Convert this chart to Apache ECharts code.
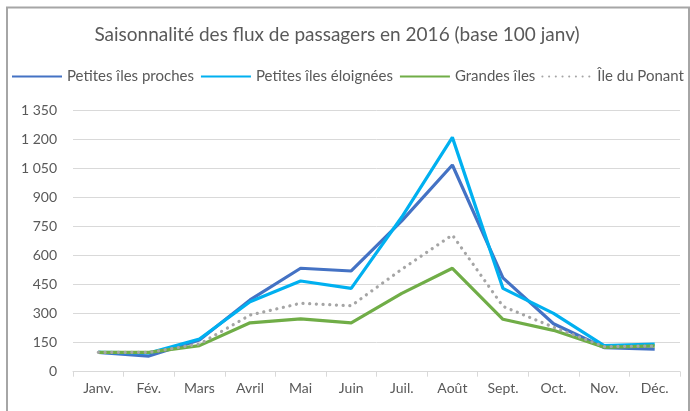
<!DOCTYPE html>
<html>
<head>
<meta charset="utf-8">
<script src="https://cdn.jsdelivr.net/npm/echarts@6/dist/echarts.min.js"></script>
<style>
  html, body { margin: 0; padding: 0; background: #fff; }
  #chart { width: 690px; height: 411px; }
</style>
</head>
<body>
<div id="chart"></div>
<script>
// Monthly passenger flows, indexed to January = 100
const months = ['Janv.', 'Fév.', 'Mars', 'Avril', 'Mai', 'Juin', 'Juil.', 'Août', 'Sept.', 'Oct.', 'Nov.', 'Déc.'];
const petitesProches   = [100, 81, 164, 371, 535, 521, 780, 1069, 485, 248, 125, 117];
const petitesEloignees = [100, 97, 169, 362, 469, 431, 800, 1212, 431, 302, 135, 143];
const grandesIles      = [100, 100, 135, 253, 273, 253, 405, 535, 271, 214, 126, 134];
const ponant           = [100, 100, 143, 293, 354, 341, 530, 707, 338, 230, 130, 133];
const seriesNames = ['Petites îles proches', 'Petites îles éloignées', 'Grandes îles', 'Île du Ponant'];
const yTicks = { min: 0, max: 1350, step: 150 };

const font = 'Lato, "Open Sans", sans-serif';
const textColor = '#595959';

function fmtThousands(v) {
  return String(v).replace(/\B(?=(\d{3})+(?!\d))/g, ' ');
}

function lineSeries(name, data, color, dotted) {
  return {
    name: name,
    type: 'line',
    data: data,
    symbol: 'none',
    smooth: false,
    lineStyle: dotted
      ? { color: color, width: 3.2, type: [0.1, 6.6], cap: 'round' }
      : { color: color, width: 3.2, type: 'solid' },
    itemStyle: { color: color }
  };
}

const chart = echarts.init(document.getElementById('chart'), null, { renderer: 'canvas' });
chart.setOption({
  animation: false,
  backgroundColor: '#fff',
  title: {
    text: 'Saisonnalité des flux de passagers en 2016 (base 100 janv)',
    left: 332,
    textAlign: 'center',
    top: 20,
    textStyle: { fontFamily: font, fontSize: 19, fontWeight: 'normal', color: textColor }
  },
  legend: {
    left: 6,
    top: 64,
    itemWidth: 50,
    itemHeight: 14,
    itemGap: 6,
    itemStyle: { opacity: 0 },
    textStyle: { fontFamily: font, fontSize: 15, color: textColor },
    data: seriesNames
  },
  grid: { left: 73, right: 10, top: 110.7, bottom: 39.3, containLabel: false },
  xAxis: {
    type: 'category',
    data: months,
    boundaryGap: true,
    axisLine: { lineStyle: { color: '#D9D9D9', width: 1 } },
    axisTick: { show: true, length: 5, lineStyle: { color: '#D9D9D9' } },
    axisLabel: { fontFamily: font, fontSize: 14, color: textColor, margin: 10 }
  },
  yAxis: {
    type: 'value',
    min: yTicks.min,
    max: yTicks.max,
    interval: yTicks.step,
    axisLine: { show: false },
    axisTick: { show: false },
    splitLine: { lineStyle: { color: '#D9D9D9', width: 1 } },
    axisLabel: { fontFamily: font, fontSize: 14, color: textColor, margin: 16, formatter: fmtThousands }
  },
  series: [
    lineSeries(seriesNames[0], petitesProches, '#4472C4'),
    lineSeries(seriesNames[1], petitesEloignees, '#00B0F0'),
    lineSeries(seriesNames[2], grandesIles, '#70AD47'),
    lineSeries(seriesNames[3], ponant, '#A5A5A5', true)
  ],
  graphic: [{
    type: 'rect',
    silent: true,
    shape: { x: 7, y: 7.5, width: 682, height: 420 },
    style: { fill: 'none', stroke: '#A6A6A6', lineWidth: 2 }
  }]
});
</script>
</body>
</html>
